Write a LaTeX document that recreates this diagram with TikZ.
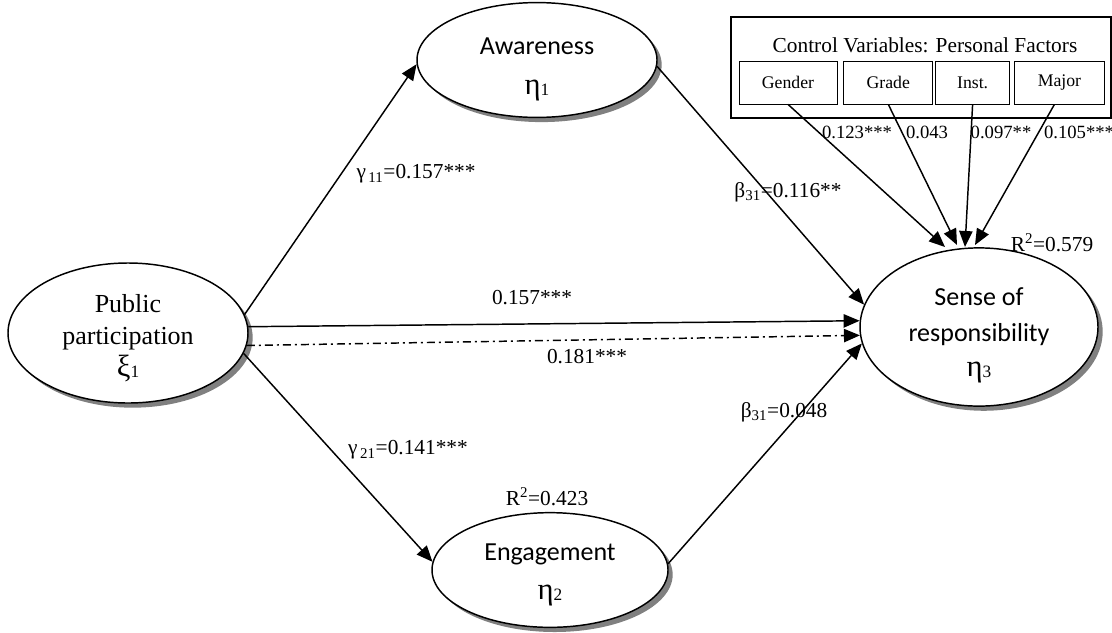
\documentclass[tikz,border=0pt]{standalone}
\usepackage{fontspec}
\setmainfont{Liberation Serif}
\newfontfamily\calibri{Carlito}
\usetikzlibrary{arrows.meta,calc,positioning,shapes.geometric,shadows}
\newcommand{\lv}[2]{{\fontsize{23}{23}\selectfont #1}\raisebox{-1pt}{\fontsize{13}{13}\selectfont #2}}
\tikzset{
  latent/.style={draw,ellipse,line width=1.1pt,fill=white,inner sep=0pt,align=center,
    drop shadow={shadow xshift=3.5pt,shadow yshift=-3.5pt,fill=black!50,opacity=1}},
  ctlbox/.style={draw,line width=0.6pt,inner sep=0pt,minimum height=32.25pt,
    font=\fontsize{13.3}{15}\selectfont},
  effect/.style={-{Triangle[length=12pt,width=10pt]},line width=1.1pt},
  coef/.style={font=\fontsize{16}{18}\selectfont,inner sep=1pt},
  ctlcoef/.style={font=\fontsize{14}{16}\selectfont,inner sep=1pt},
}

\begin{document}
\begin{tikzpicture}[x=0.75pt,y=-0.75pt]
        \useasboundingbox (0,0) rectangle (1112,632);
        % latent variables
        \node[latent,minimum width=180pt,minimum height=105pt,font=\fontsize{19.5}{24}\selectfont] (pp) at (128,333) {\rule{0pt}{21pt}Public\\participation\\\lv{ξ}{1}};
        \node[latent,minimum width=180pt,minimum height=75pt,font=\fontsize{19.5}{30}\selectfont] (aw) at (537,60) {\rule{0pt}{26pt}{\calibri Awareness}\\\lv{η}{1}};
        \node[latent,minimum width=177pt,minimum height=86pt,font=\fontsize{19.5}{29}\selectfont] (en) at (550,570) {\rule{0pt}{20pt}{\calibri Engagement}\\\lv{η}{2}};
        \node[latent,minimum width=178.5pt,minimum height=105pt,font=\fontsize{19.5}{26.5}\selectfont] (sr) at (979,327) {\rule{0pt}{26pt}{\calibri Sense of}\\{\calibri responsibility}\\\lv{η}{3}};
        % control variables
        \node[draw,line width=1.5pt,minimum width=285pt,minimum height=75.75pt] (ctl) at (921,67.5) {};
        \node[font=\fontsize{16}{18}\selectfont] (ctltitle) at (925,45) {Control Variables: Personal Factors};
        \node[ctlbox,minimum width=73.5pt] (gender) at (788,82.5) {Gender};
        \node[ctlbox,minimum width=66.75pt,right=4.5pt of gender] (grade) {Grade};
        \node[ctlbox,minimum width=55.5pt,right=1.5pt of grade] (inst) {Inst.};
        \node[ctlbox,minimum width=67.5pt,right=3pt of inst] (major) {Major};
        \coordinate (hgender) at (945,247);
        \coordinate (hgrade) at (957,245);
        \coordinate (hinst) at (965,247);
        \coordinate (hmajor) at (975,245);
        \draw[effect] (gender.south) -- (hgender);
        \draw[effect] (grade.south) -- (hgrade);
        \draw[effect] (inst.south) -- (hinst);
        \draw[effect] ($(major.south)+(-5,0)$) -- (hmajor);
        % structural paths
        \draw[effect] (pp.9.5) -- (aw.182.4);
        \draw[effect] (aw.-3.4) -- (sr.169.3);
        \draw[effect] (pp.3.8) -- (sr.177);
        \draw[effect,dash pattern=on 6pt off 3pt on 1.5pt off 3pt] (pp.-6.7) -- (sr.184.8);
        \draw[effect] (pp.-10.6) -- (en.176.6);
        \draw[effect] (en.3.4) -- (sr.188.8);
        % coefficients
        \node[coef] (g11) at (416,174) {γ\textsubscript{\,11}=0.157***};
        \node[coef] (b31a) at (788,192) {β\textsubscript{31}=0.116**};
        \node[coef] (direct) at (532,298) {0.157***};
        \node[coef] (total) at (587,357) {0.181***};
        \node[coef] (g21) at (408,450) {γ\textsubscript{\,21}=0.141***};
        \node[coef] (r2en) at (547,497) {R\textsuperscript{2}=0.423};
        \node[coef] (b31b) at (784,412) {β\textsubscript{31}=0.048};
        \node[coef] (r2sr) at (1052,243) {R\textsuperscript{2}=0.579};
        \node[ctlcoef] (cgender) at (857,132) {0.123***};
        \node[ctlcoef] (cgrade) at (927,132) {0.043};
        \node[ctlcoef] (cinst) at (1001,132) {0.097**};
        \node[ctlcoef] (cmajor) at (1079,132) {0.105***};
      \end{tikzpicture}
\end{document}
